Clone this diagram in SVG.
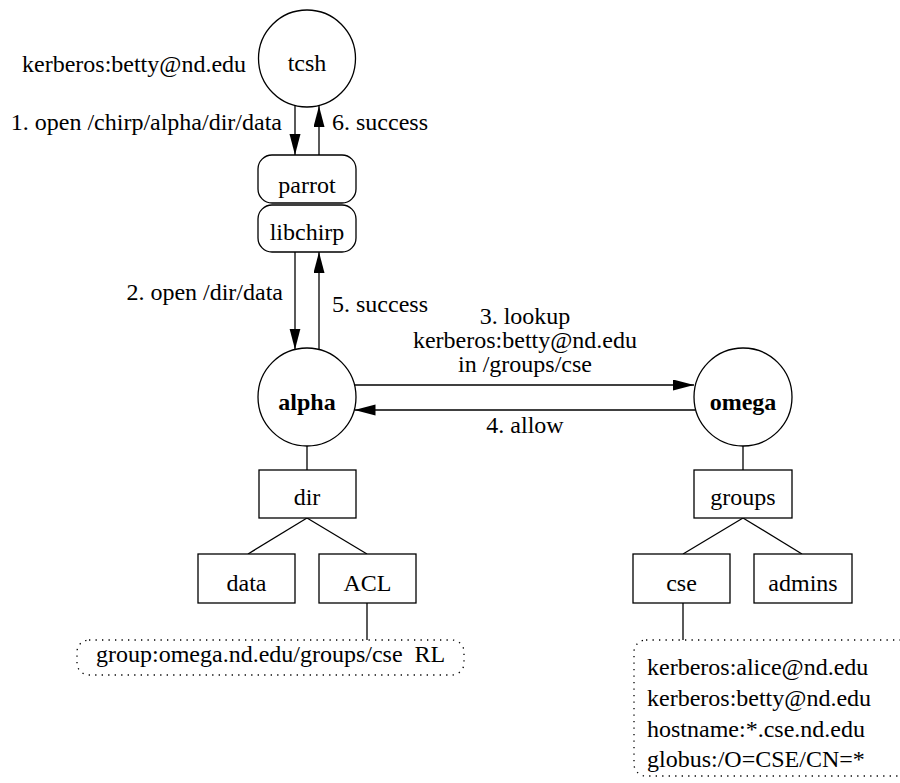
<svg xmlns="http://www.w3.org/2000/svg" width="900" height="783" viewBox="0 0 900 783">
  <style>
    text { font-family: "Liberation Serif", "Times New Roman", serif; font-size: 24px; fill: #000; white-space: pre; }
    .c { text-anchor: middle; }
    .e { text-anchor: end; }
    .b { font-weight: bold; }
    .shape { fill: #fff; stroke: #000; stroke-width: 1.3; }
    .edge { fill: none; stroke: #000; stroke-width: 1.3; }
    .dots { fill: none; stroke: #000; stroke-width: 1.3; stroke-dasharray: 1.3 5.2; }
  </style>
  <defs>
    <marker id="arrow" markerUnits="userSpaceOnUse" markerWidth="22" markerHeight="12" refX="21" refY="5.5" orient="auto">
      <path d="M0,0 L21,5.5 L0,11 z" fill="#000"/>
    </marker>
  </defs>

  <rect width="900" height="783" fill="#fff"/>

  <!-- connectors -->
  <g id="connectors">
    <line class="edge" x1="295" y1="105.5" x2="295" y2="155" marker-end="url(#arrow)"/>
    <line class="edge" x1="319" y1="155" x2="319" y2="106" marker-end="url(#arrow)"/>
    <line class="edge" x1="295" y1="252" x2="295" y2="349.5" marker-end="url(#arrow)"/>
    <line class="edge" x1="319" y1="349.5" x2="319" y2="252" marker-end="url(#arrow)"/>
    <line class="edge" x1="354.5" y1="385" x2="694" y2="385" marker-end="url(#arrow)"/>
    <line class="edge" x1="695.5" y1="410" x2="354.5" y2="410" marker-end="url(#arrow)"/>
    <!-- alpha tree -->
    <line class="edge" x1="307" y1="446" x2="307" y2="470"/>
    <line class="edge" x1="307" y1="518" x2="248" y2="554"/>
    <line class="edge" x1="307" y1="518" x2="367" y2="554"/>
    <line class="edge" x1="367" y1="603" x2="367" y2="640"/>
    <!-- omega tree -->
    <line class="edge" x1="743" y1="446" x2="743" y2="470"/>
    <line class="edge" x1="743" y1="518" x2="683" y2="554"/>
    <line class="edge" x1="743" y1="518" x2="802" y2="554"/>
    <line class="edge" x1="683" y1="603" x2="683" y2="640"/>
  </g>

  <!-- edge labels -->
  <g id="labels">
    <text x="22" y="72">kerberos:betty@nd.edu</text>
    <text class="e" x="282" y="130">1. open /chirp/alpha/dir/data</text>
    <text x="332" y="130">6. success</text>
    <text class="e" x="283" y="300">2. open /dir/data</text>
    <text x="332" y="312">5. success</text>
    <text class="c" x="525" y="324">3. lookup</text>
    <text class="c" x="525" y="348">kerberos:betty@nd.edu</text>
    <text class="c" x="525" y="372">in /groups/cse</text>
    <text class="c" x="525" y="433">4. allow</text>
  </g>

  <g id="tcsh">
    <circle class="shape" cx="307" cy="58.5" r="48.5"/>
    <text class="c" x="307" y="71">tcsh</text>
  </g>
  <g id="parrot">
    <rect class="shape" x="258" y="155" width="98" height="48" rx="14"/>
    <text class="c" x="307" y="193">parrot</text>
  </g>
  <g id="libchirp">
    <rect class="shape" x="258" y="205" width="98" height="47" rx="14"/>
    <text class="c" x="307" y="240">libchirp</text>
  </g>
  <g id="alpha">
    <circle class="shape" cx="307" cy="397" r="49"/>
    <text class="c b" x="307" y="410">alpha</text>
  </g>
  <g id="omega">
    <circle class="shape" cx="743" cy="397" r="49"/>
    <text class="c b" x="743" y="410">omega</text>
  </g>

  <g id="dir">
    <rect class="shape" x="259" y="470" width="97" height="48"/>
    <text class="c" x="307" y="505">dir</text>
  </g>
  <g id="data">
    <rect class="shape" x="198" y="554" width="97" height="49"/>
    <text class="c" x="246.5" y="591">data</text>
  </g>
  <g id="acl">
    <rect class="shape" x="319" y="554" width="97" height="49"/>
    <text class="c" x="367.5" y="591">ACL</text>
  </g>
  <g id="acl-entry">
    <rect class="dots" x="77" y="640" width="387" height="35" rx="12"/>
    <text x="96" y="662">group:omega.nd.edu/groups/cse  RL</text>
  </g>

  <g id="groups">
    <rect class="shape" x="694" y="470" width="98" height="48"/>
    <text class="c" x="743" y="505">groups</text>
  </g>
  <g id="cse">
    <rect class="shape" x="633" y="554" width="97" height="49"/>
    <text class="c" x="681.5" y="591">cse</text>
  </g>
  <g id="admins">
    <rect class="shape" x="754" y="554" width="98" height="49"/>
    <text class="c" x="803" y="591">admins</text>
  </g>
  <g id="cse-members">
    <rect class="dots" x="634" y="640" width="400" height="136" rx="12"/>
    <text x="647" y="675">kerberos:alice@nd.edu</text>
    <text x="647" y="706">kerberos:betty@nd.edu</text>
    <text x="647" y="737">hostname:*.cse.nd.edu</text>
    <text x="647" y="767">globus:/O=CSE/CN=*</text>
  </g>
</svg>
